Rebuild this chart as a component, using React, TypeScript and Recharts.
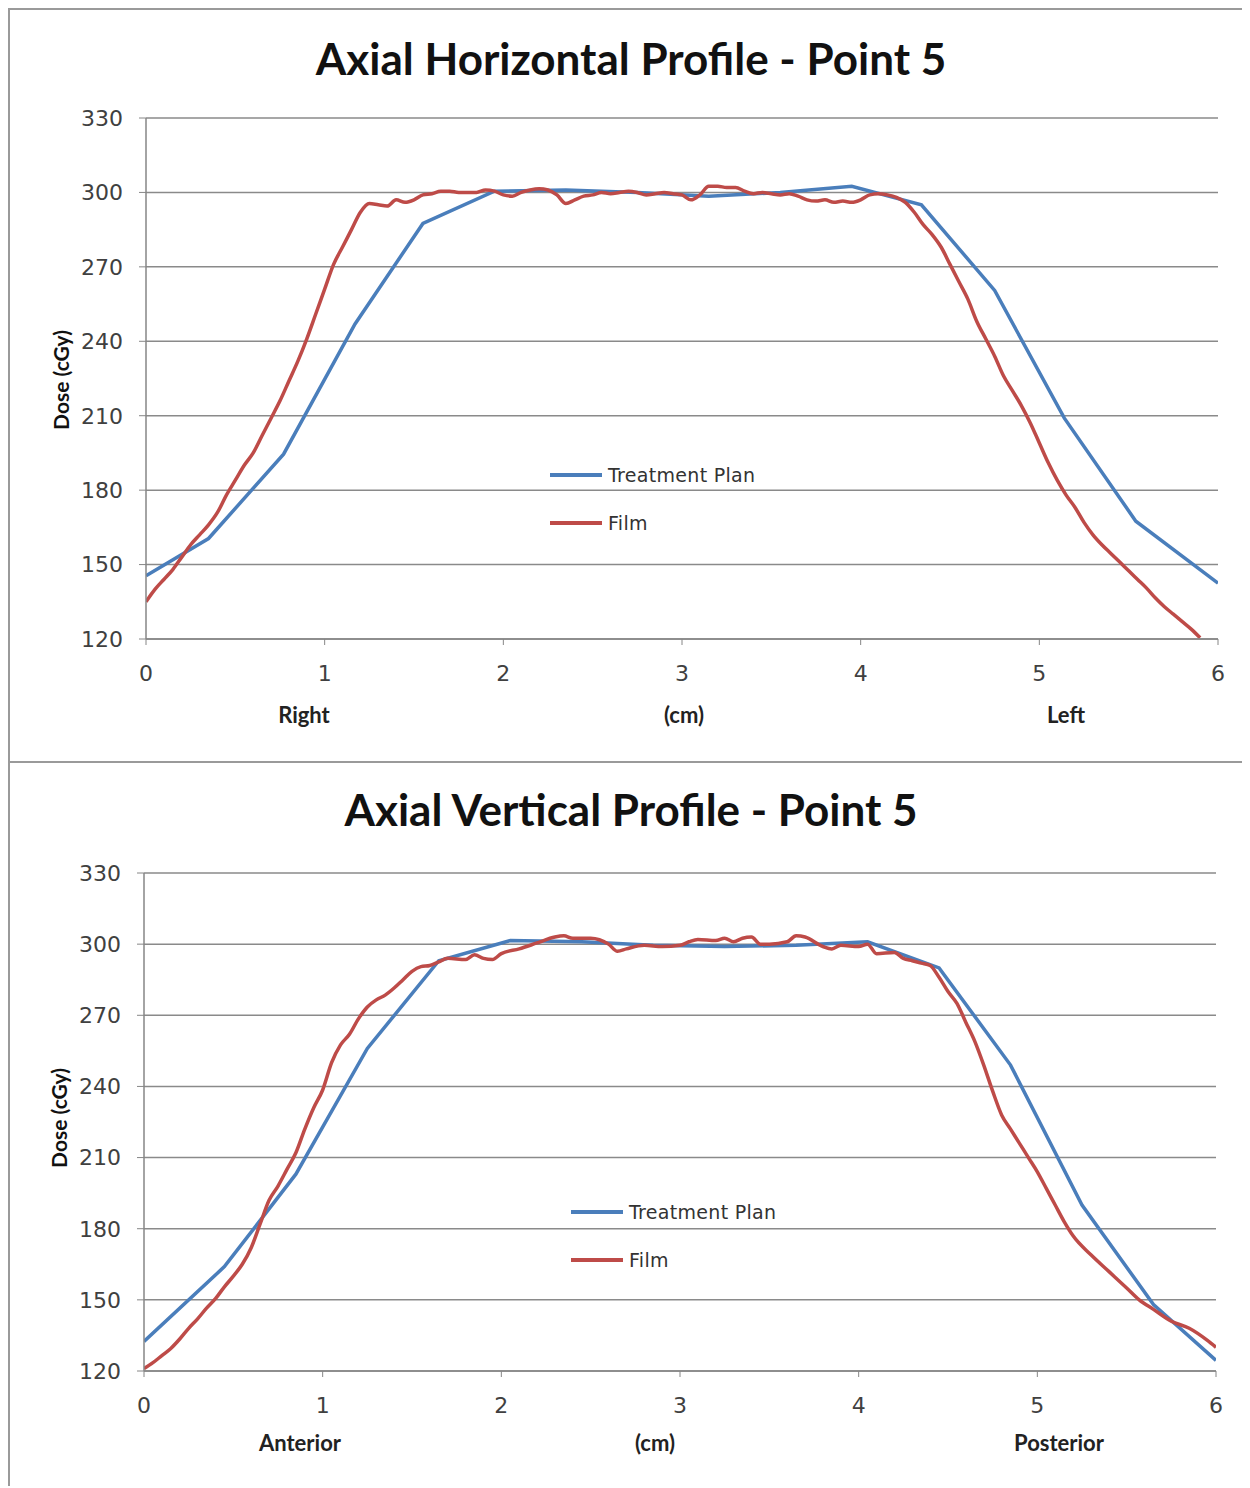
import React from "react";
import { LineChart, Line, XAxis, YAxis, CartesianGrid, Legend } from "recharts";

const doseTicks = [120, 150, 180, 210, 240, 270, 300, 330];
const cmTicks = [0, 1, 2, 3, 4, 5, 6];
const legendOrder = ["Treatment Plan", "Film"];

// Horizontal profile: planning system samples
const hPlanCm = [0, 0.35, 0.77, 1.17, 1.55, 1.95, 2.35, 2.75, 3.15, 3.55, 3.95, 4.34, 4.75, 5.14, 5.54, 6.0];
const hPlanDose = [145.5, 160.5, 194.5, 247, 287.5, 300.5, 301, 300, 298.5, 300, 302.5, 295, 260.5, 209, 167.5, 142.5];

// Horizontal profile: film scan
const hFilmCm = [
  0, 0.05, 0.1, 0.15, 0.2, 0.25, 0.3, 0.35, 0.4, 0.45, 0.5, 0.55, 0.6, 0.65, 0.7, 0.75, 0.8, 0.85, 0.9, 0.95,
  1.0, 1.05, 1.1, 1.15, 1.2, 1.25, 1.3, 1.35, 1.4, 1.45, 1.5, 1.55, 1.6, 1.65, 1.7, 1.75, 1.8, 1.85, 1.9, 1.95,
  2.0, 2.05, 2.1, 2.15, 2.2, 2.25, 2.3, 2.35, 2.4, 2.45, 2.5, 2.55, 2.6, 2.65, 2.7, 2.75, 2.8, 2.85, 2.9, 2.95,
  3.0, 3.05, 3.1, 3.15, 3.2, 3.25, 3.3, 3.35, 3.4, 3.45, 3.5, 3.55, 3.6, 3.65, 3.7, 3.75, 3.8, 3.85, 3.9, 3.95,
  4.0, 4.05, 4.1, 4.15, 4.2, 4.25, 4.3, 4.35, 4.4, 4.45, 4.5, 4.55, 4.6, 4.65, 4.7, 4.75, 4.8, 4.85, 4.9, 4.95,
  5.0, 5.05, 5.1, 5.15, 5.2, 5.25, 5.3, 5.35, 5.4, 5.45, 5.5, 5.55, 5.6, 5.65, 5.7, 5.75, 5.8, 5.85, 5.9,
];
const hFilmDose = [
  135, 140, 144, 148, 153, 158, 162, 166, 171, 178, 184, 190, 195, 202, 209, 216, 224, 232, 241, 251,
  261, 271, 278, 285, 292, 295.5, 295, 294.5, 297, 296, 297, 299, 299.5, 300.5, 300.5, 300, 300, 300, 301, 300.5,
  299, 298.5, 300, 301, 301.5, 301, 299, 295.5, 297, 298.5, 299, 300, 299.5, 300, 300.5, 300, 299, 299.5, 300, 299.5,
  299, 297, 299, 302.5, 302.5, 302, 302, 300.5, 299.5, 300, 299.5, 299, 299.5, 298.5, 297, 296.5, 297, 296, 296.5, 296,
  297, 299, 299.5, 299, 298, 296, 292, 287, 283, 278, 271, 264, 257, 248, 241, 234, 226, 220, 214, 207,
  199, 191, 184, 178, 173, 167, 162, 158, 154.5, 151, 147.5, 144, 140.5, 136.5, 133, 130, 127, 124, 120.5,
];

// Vertical profile: planning system samples
const vPlanCm = [0, 0.45, 0.85, 1.25, 1.65, 2.05, 2.45, 2.85, 3.25, 3.65, 4.05, 4.45, 4.85, 5.25, 5.65, 6.0];
const vPlanDose = [132.5, 164, 203, 256, 293, 301.5, 301, 299.5, 299, 299.5, 301, 290, 249, 190, 148, 124.5];

// Vertical profile: film scan
const vFilmCm = [
  0, 0.05, 0.1, 0.15, 0.2, 0.25, 0.3, 0.35, 0.4, 0.45, 0.5, 0.55, 0.6, 0.65, 0.7, 0.75, 0.8, 0.85, 0.9, 0.95,
  1.0, 1.05, 1.1, 1.15, 1.2, 1.25, 1.3, 1.35, 1.4, 1.45, 1.5, 1.55, 1.6, 1.65, 1.7, 1.8, 1.85, 1.9, 1.95,
  2.0, 2.1, 2.2, 2.3, 2.35, 2.4, 2.5, 2.6, 2.65, 2.7, 2.8, 2.9, 3.0, 3.05, 3.1, 3.2, 3.25, 3.3, 3.35, 3.4, 3.45,
  3.5, 3.6, 3.65, 3.7, 3.8, 3.85, 3.9, 4.0, 4.05, 4.1, 4.2, 4.25, 4.3, 4.35, 4.4, 4.45, 4.5, 4.55, 4.6, 4.65,
  4.7, 4.75, 4.8, 4.85, 4.9, 4.95, 5.0, 5.05, 5.1, 5.15, 5.2, 5.3, 5.4, 5.5, 5.57, 5.65, 5.75, 5.85, 5.95, 6.0,
];
const vFilmDose = [
  121, 123.5, 126.5, 129.5, 133.5, 138, 142, 146.5, 150.5, 155.5, 160, 165, 172, 182, 192, 198, 205, 212, 222, 231,
  238.5, 250, 257.5, 262, 268.5, 273.5, 276.5, 278.5, 281.5, 285, 288.5, 290.5, 291, 292.5, 294, 293.5, 295.5, 294, 293.5,
  296, 298, 300.5, 303, 303.5, 302.5, 302.5, 300, 297, 298, 299.5, 299, 299.5, 301, 302, 301.5, 302.5, 301, 302.5, 303, 300,
  300, 301, 303.5, 303, 299, 298, 299.5, 299, 300, 296, 296.5, 294, 293, 292, 291, 286, 280, 275, 267, 259,
  249, 238, 228, 222, 216, 210, 204, 197, 190, 183, 177, 169, 162, 155, 150, 146, 141, 138, 133, 130,
];

const zip = (cm: number[], dose: number[]) => cm.map((x, i) => ({ x, dose: dose[i] }));

const PLAN_BLUE = "#4a7ebb";
const FILM_RED = "#be4b48";
const GRID = "#8a8a8a";
const AXIS = "#868686";
const WIDTH = 1242;

type PanelProps = {
  height: number;
  title: string;
  titleTop: number;
  plan: { x: number; dose: number }[];
  film: { x: number; dose: number }[];
  margin: { top: number; right: number; bottom: number; left: number };
  legend: { left: number; top: number };
  sideLabels: { text: string; x: number }[];
  sideTop: number;
  yLabel: { x: number; y: number };
  boxed: boolean;
};

function LegendBox({ payload }: any) {
  const items = [...(payload || [])].sort(
    (a: any, b: any) => legendOrder.indexOf(a.value) - legendOrder.indexOf(b.value)
  );
  return (
    <div>
      {items.map((p: any) => (
        <div key={p.value} style={{ display: "flex", alignItems: "center", height: 48 }}>
          <span style={{ display: "inline-block", width: 52, height: 4, background: p.color, marginRight: 6 }} />
          <span style={{ fontFamily: "DejaVu Sans", fontSize: 19, color: "#333", letterSpacing: 0.3 }}>{p.value}</span>
        </div>
      ))}
    </div>
  );
}

function ProfilePanel(props: PanelProps) {
  const { height, title, titleTop, plan, film, margin, legend, sideLabels, sideTop, yLabel, boxed } = props;
  const tickStyle = { fontSize: 22, fill: "#404040", fontFamily: "DejaVu Sans" };
  return (
    <div
      style={{
        position: "relative",
        width: WIDTH,
        height,
        borderLeft: `2px solid #9a9a9a`,
        borderTop: boxed ? `2px solid #9a9a9a` : undefined,
        borderBottom: boxed ? `2px solid #9a9a9a` : undefined,
        boxSizing: "border-box",
      }}
    >
      <div style={{ position: "absolute", left: -2, top: boxed ? -2 : 0 }}>
        <LineChart width={WIDTH} height={height} margin={margin}>
          <CartesianGrid vertical={false} stroke={GRID} strokeWidth={1.5} />
          <XAxis
            type="number"
            dataKey="x"
            domain={[0, 6]}
            ticks={cmTicks}
            allowDataOverflow
            tick={tickStyle}
            tickSize={6}
            tickMargin={20}
            height={30}
            axisLine={{ stroke: AXIS, strokeWidth: 1.5 }}
            tickLine={{ stroke: AXIS }}
          />
          <YAxis
            type="number"
            domain={[120, 330]}
            ticks={doseTicks}
            allowDataOverflow
            tick={tickStyle}
            tickSize={7}
            tickMargin={16}
            width={60}
            axisLine={{ stroke: AXIS, strokeWidth: 1.5 }}
            tickLine={{ stroke: AXIS }}
          />
          <Legend
            layout="vertical"
            align="center"
            verticalAlign="middle"
            content={<LegendBox />}
            wrapperStyle={{ left: legend.left, top: legend.top, width: 260, bottom: "auto" }}
          />
          <Line
            data={plan}
            dataKey="dose"
            name="Treatment Plan"
            type="linear"
            stroke={PLAN_BLUE}
            strokeWidth={3.5}
            dot={false}
            isAnimationActive={false}
          />
          <Line
            data={film}
            dataKey="dose"
            name="Film"
            type="monotone"
            stroke={FILM_RED}
            strokeWidth={3.5}
            dot={false}
            isAnimationActive={false}
          />
        </LineChart>
      </div>
      <div
        style={{
          position: "absolute",
          left: 0,
          width: WIDTH,
          top: titleTop - 28,
          textAlign: "center",
          fontFamily: "Lato",
          fontWeight: 700,
          fontSize: 44,
          lineHeight: "52px",
          color: "#111",
        }}
      >
        {title}
      </div>
      <div
        style={{
          position: "absolute",
          left: yLabel.x - 80,
          top: yLabel.y - 14,
          width: 160,
          height: 28,
          lineHeight: "28px",
          textAlign: "center",
          transform: "rotate(-90deg)",
          fontFamily: "Lato",
          fontWeight: 700,
          fontSize: 21,
          color: "#111",
        }}
      >
        Dose (cGy)
      </div>
      {sideLabels.map((s) => (
        <div
          key={s.text}
          style={{
            position: "absolute",
            left: s.x - 80,
            top: sideTop - 14,
            width: 160,
            lineHeight: "28px",
            textAlign: "center",
            fontFamily: "Lato",
            fontWeight: 700,
            fontSize: 22,
            color: "#222",
          }}
        >
          {s.text}
        </div>
      ))}
    </div>
  );
}

export default function App() {
  return (
    <div style={{ width: WIDTH }}>
      <ProfilePanel
        height={755}
        title="Axial Horizontal Profile - Point 5"
        titleTop={50}
        plan={zip(hPlanCm, hPlanDose)}
        film={zip(hFilmCm, hFilmDose)}
        margin={{ top: 110, right: 32, bottom: 94, left: 78 }}
        legend={{ left: 542, top: 443 }}
        sideLabels={[
          { text: "Right", x: 294 },
          { text: "(cm)", x: 674 },
          { text: "Left", x: 1056 },
        ]}
        sideTop={705}
        yLabel={{ x: 51, y: 370 }}
        boxed
      />
      <ProfilePanel
        height={723}
        title="Axial Vertical Profile - Point 5"
        titleTop={48}
        plan={zip(vPlanCm, vPlanDose)}
        film={zip(vFilmCm, vFilmDose)}
        margin={{ top: 110, right: 34, bottom: 85, left: 76 }}
        legend={{ left: 563, top: 425 }}
        sideLabels={[
          { text: "Anterior", x: 290 },
          { text: "(cm)", x: 645 },
          { text: "Posterior", x: 1049 },
        ]}
        sideTop={680}
        yLabel={{ x: 49, y: 355 }}
        boxed={false}
      />
    </div>
  );
}
